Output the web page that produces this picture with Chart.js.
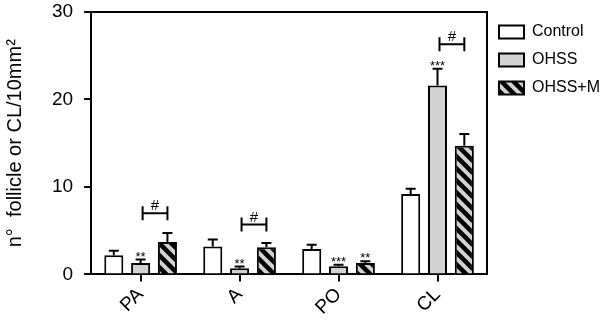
<!DOCTYPE html>
<html>
<head>
<meta charset="utf-8">
<script src="https://cdn.jsdelivr.net/npm/chart.js@4"></script>
<style>
  body { margin: 0; background: #fff; }
  #wrap { width: 600px; height: 325px; }
</style>
</head>
<body>
<div id="wrap"><canvas id="chart"></canvas></div>
<script>
// data
const categories = ['PA', 'A', 'PO', 'CL'];
const seriesNames = ['Control', 'OHSS', 'OHSS+M'];
const controlVals = [2.2, 3.2, 2.9, 9.2];
const ohssVals = [1.3, 0.7, 0.95, 21.6];
const ohssmVals = [3.7, 3.1, 1.3, 14.7];
const controlErr = [0.5, 0.8, 0.5, 0.6];
const ohssErr = [0.4, 0.2, 0.15, 1.9];
const ohssmErr = [1.05, 0.5, 0.2, 1.35];
const ohssStars = ['**', '**', '***', '***'];
const ohssmStars = ['', '', '**', ''];
const bracketLevel = [7.0, 5.7, null, 26.3]; // "#" between OHSS and OHSS+M
const yTicks = [0, 10, 20, 30];

const FONT = "'Liberation Sans', Arial, sans-serif";
const GRAY = '#d3d3d3';

// hatched fill for OHSS+M
function makeHatch() {
    const c = document.createElement('canvas');
    c.width = 12; c.height = 12;
    const g = c.getContext('2d');
    g.fillStyle = GRAY;
    g.fillRect(0, 0, 12, 12);
    g.strokeStyle = '#000';
    g.lineWidth = 4.5;
    for (let k = -1; k <= 1; k++) {
        g.beginPath();
        g.moveTo(k * 12 - 2, -2);
        g.lineTo(k * 12 + 14, 14);
        g.stroke();
    }
    return g.createPattern(c, 'repeat');
}
const hatch = makeHatch();

const errors = [controlErr, ohssErr, ohssmErr];
const stars = [null, ohssStars, ohssmStars];

// error bars, asterisks, # brackets and the top/right frame
const extras = {
    id: 'extras',
    afterDatasetsDraw(chart) {
        const ctx = chart.ctx;
        const y = chart.scales.y;
        const area = chart.chartArea;
        ctx.save();
        ctx.strokeStyle = '#000';
        ctx.fillStyle = '#000';
        ctx.lineWidth = 2;
        chart.data.datasets.forEach((ds, i) => {
            const meta = chart.getDatasetMeta(i);
            meta.data.forEach((bar, j) => {
                const top = y.getPixelForValue(ds.data[j] + errors[i][j]);
                ctx.beginPath();
                ctx.moveTo(bar.x, bar.y);
                ctx.lineTo(bar.x, top);
                ctx.moveTo(bar.x - 5, top);
                ctx.lineTo(bar.x + 5, top);
                ctx.stroke();
                if (stars[i] && stars[i][j]) {
                    ctx.font = '13px ' + FONT;
                    ctx.textAlign = 'center';
                    ctx.textBaseline = 'alphabetic';
                    ctx.fillText(stars[i][j], bar.x, top + 1);
                }
            });
        });
        const m1 = chart.getDatasetMeta(1).data;
        const m2 = chart.getDatasetMeta(2).data;
        bracketLevel.forEach((lv, j) => {
            if (lv === null) return;
            const by = y.getPixelForValue(lv);
            const x1 = m1[j].x + 2, x2 = m2[j].x;
            ctx.beginPath();
            ctx.moveTo(x1, by); ctx.lineTo(x2, by);
            ctx.moveTo(x1, by - 7); ctx.lineTo(x1, by + 7);
            ctx.moveTo(x2, by - 7); ctx.lineTo(x2, by + 7);
            ctx.stroke();
            ctx.font = '15px ' + FONT;
            ctx.textAlign = 'center';
            ctx.textBaseline = 'alphabetic';
            ctx.fillText('#', (x1 + x2) / 2, by - 3);
        });
        ctx.beginPath();
        ctx.moveTo(area.left, area.top);
        ctx.lineTo(area.right, area.top);
        ctx.lineTo(area.right, area.bottom);
        ctx.stroke();
        ctx.restore();
    }
};

new Chart(document.getElementById('chart'), {
    type: 'bar',
    data: {
        labels: categories,
        datasets: [
            { label: seriesNames[0], data: controlVals, backgroundColor: '#fff', borderColor: '#000', borderWidth: 2 },
            { label: seriesNames[1], data: ohssVals, backgroundColor: GRAY, borderColor: '#000', borderWidth: 2 },
            { label: seriesNames[2], data: ohssmVals, backgroundColor: hatch, borderColor: '#000', borderWidth: 2 }
        ]
    },
    options: {
        responsive: true,
        maintainAspectRatio: false,
        animation: false,
        categoryPercentage: 0.813,
        barPercentage: 0.71,
        layout: { padding: { right: -10, bottom: 4, left: 3, top: 0 } },
        plugins: {
            legend: {
                position: 'right',
                align: 'start',
                fullSize: false,
                labels: {
                    boxWidth: 25,
                    boxHeight: 13,
                    padding: 12,
                    color: '#000',
                    font: { size: 16, family: FONT }
                }
            },
            tooltip: { enabled: false }
        },
        scales: {
            x: {
                grid: { display: true, drawOnChartArea: false, drawTicks: true, tickLength: 7, offset: false, color: '#000', lineWidth: 2 },
                border: { display: true, color: '#000', width: 2 },
                ticks: { color: '#000', font: { size: 19, family: FONT }, maxRotation: 45, minRotation: 45, padding: 2 }
            },
            y: {
                min: 0,
                max: 30,
                afterBuildTicks: (s) => { s.ticks = yTicks.map(v => ({ value: v })); },
                // keep the top of the plot close to the half height of the "30" label
                afterFit: (s) => { s.paddingTop = 12; },
                grid: { display: true, drawOnChartArea: false, drawTicks: true, tickLength: 7, color: '#000', lineWidth: 2 },
                border: { display: true, color: '#000', width: 2 },
                ticks: { color: '#000', font: { size: 19, family: FONT }, padding: 11 },
                title: { display: true, text: 'n°  follicle or CL/10mm²', color: '#000', font: { size: 20, family: FONT }, padding: { top: 0, bottom: 14 } }
            }
        }
    },
    plugins: [extras]
});
</script>
</body>
</html>
